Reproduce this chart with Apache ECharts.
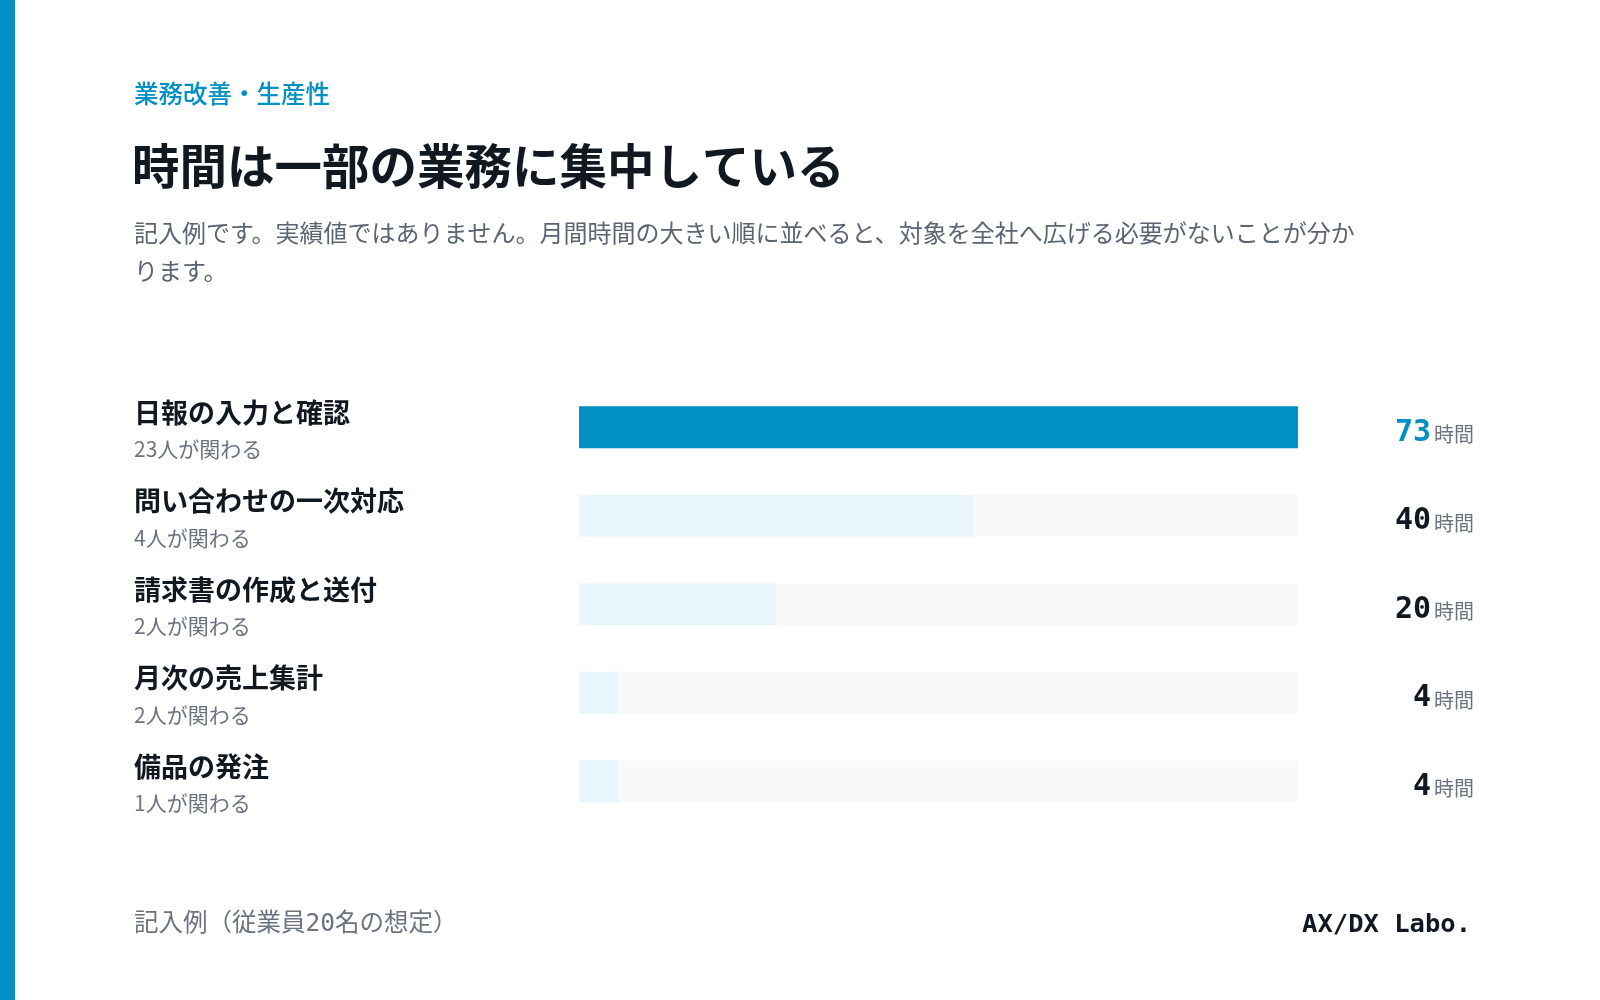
<!DOCTYPE html>
<html>
<head>
<meta charset="utf-8">
<script src="https://cdn.jsdelivr.net/npm/echarts@6/dist/echarts.min.js"></script>
<style>
html,body{margin:0;padding:0;background:#fff;}
#chart{width:1600px;height:1000px;}
</style>
</head>
<body>
<div id="chart"></div>
<script>
const kicker = '業務改善・生産性';
const titleText = '時間は一部の業務に集中している';
const descLines = ['記入例です。実績値ではありません。月間時間の大きい順に並べると、対象を全社へ広げる必要がないことが分か', 'ります。'];
const names = ['日報の入力と確認', '問い合わせの一次対応', '請求書の作成と送付', '月次の売上集計', '備品の発注'];
const hours = [73, 40, 20, 4, 4];
const people = [23, 4, 2, 2, 1];
const unitText = '時間';
const peopleSuffix = '人が関わる';
const footLeft = '記入例（従業員20名の想定）';
const footRight = 'AX/DX Labo.';

const BLUE = '#0090C4';
const DARK = '#111820';
const JP = '"Noto Sans CJK JP", "Noto Sans", sans-serif';
const MONO = '"DejaVu Sans Mono", "Noto Sans CJK JP", monospace';

const chart = echarts.init(document.getElementById('chart'), null, {renderer: 'canvas'});

const barData = hours.map((v, i) => ({
  value: v,
  itemStyle: {color: i === 0 ? BLUE : '#E8F6FC'}
}));

const option = {
  animation: false,
  backgroundColor: '#ffffff',
  grid: {left: 579, right: 302, top: 383, height: 442.5, containLabel: false},
  xAxis: {type: 'value', min: 0, max: Math.max(...hours), show: false},
  yAxis: [
    {
      type: 'category', inverse: true, data: names,
      axisLine: {show: false}, axisTick: {show: false}, splitLine: {show: false},
      axisLabel: {
        align: 'left', margin: 445, verticalAlign: 'middle',
        formatter: (v, i) => `{n|${v}}\n{s|${people[i]}${peopleSuffix}}`,
        rich: {
          n: {fontFamily: JP, fontSize: 27, fontWeight: 700, color: DARK, lineHeight: 44},
          s: {fontFamily: JP, fontSize: 21, fontWeight: 400, color: '#6B7280', lineHeight: 30}
        }
      }
    },
    {
      type: 'category', inverse: true, position: 'right', data: hours.map(String),
      axisLine: {show: false}, axisTick: {show: false}, splitLine: {show: false},
      axisLabel: {
        align: 'right', margin: 176, verticalAlign: 'middle', padding: [11, 0, 0, 0],
        formatter: (v, i) => (i === 0 ? `{hi|${v}}` : `{num|${v}}`) + `{u|${unitText}}`,
        rich: {
          hi: {fontFamily: MONO, fontSize: 30, fontWeight: 700, color: BLUE, verticalAlign: 'bottom'},
          num: {fontFamily: MONO, fontSize: 30, fontWeight: 700, color: DARK, verticalAlign: 'bottom'},
          u: {fontFamily: JP, fontSize: 20, color: '#6B7280', verticalAlign: 'bottom', padding: [0, 0, 3, 3]}
        }
      }
    }
  ],
  series: [{
    type: 'bar', yAxisIndex: 0, data: barData, barWidth: 42,
    showBackground: true, backgroundStyle: {color: '#F7F9FA'},
    silent: true
  }],
  graphic: [
    {type: 'rect', left: 0, top: 0, shape: {width: 15, height: 1000}, style: {fill: BLUE}},
    {type: 'text', x: 134, y: 94, style: {text: kicker, fill: BLUE, fontFamily: JP, fontSize: 24.5, fontWeight: 500, verticalAlign: 'middle'}},
    {type: 'text', x: 132, y: 166, style: {text: titleText, fill: DARK, fontFamily: JP, fontSize: 47.5, fontWeight: 700, verticalAlign: 'middle'}},
    {type: 'text', x: 134, y: 214, style: {text: descLines.join('\n'), fill: '#5B6472', fontFamily: JP, fontSize: 24, lineHeight: 38, verticalAlign: 'top'}},
    {type: 'text', x: 134, y: 925, style: {text: footLeft, fill: '#6B7280', fontFamily: MONO, fontSize: 24.5, verticalAlign: 'middle'}},
    {type: 'text', x: 1471, y: 925, style: {text: footRight, fill: DARK, fontFamily: MONO, fontSize: 25.5, fontWeight: 700, align: 'right', verticalAlign: 'middle'}}
  ]
};
chart.setOption(option);
</script>
</body>
</html>
